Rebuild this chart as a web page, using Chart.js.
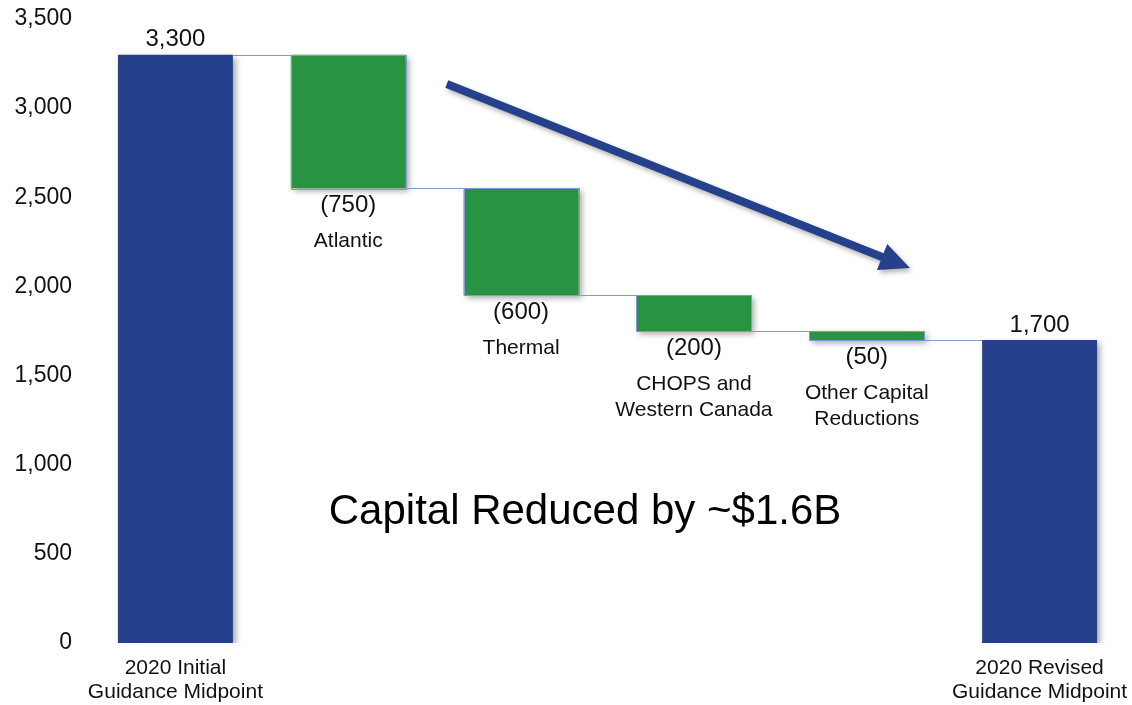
<!DOCTYPE html>
<html>
<head>
<meta charset="utf-8">
<title>Capital Reduced</title>
<script src="https://cdn.jsdelivr.net/npm/chart.js@4.4.1/dist/chart.umd.min.js"></script>
<style>
	html, body { margin: 0; padding: 0; background: #fff; }
	#wrap { width: 1132px; height: 705px; position: relative; }
</style>
</head>
<body>
<div id="wrap"><canvas id="waterfall"></canvas></div>
<script>
	'use strict';

	// Data
	const categoryLines = [
		['2020 Initial', 'Guidance Midpoint'],
		['Atlantic'],
		['Thermal'],
		['CHOPS and', 'Western Canada'],
		['Other Capital', 'Reductions'],
		['2020 Revised', 'Guidance Midpoint']
	];
	const startValue = 3300;
	const changes = [-750, -600, -200, -50];
	const endValue = 1700;
	const valueLabels = ['3,300', '(750)', '(600)', '(200)', '(50)', '1,700'];
	const yTickValues = [0, 500, 1000, 1500, 2000, 2500, 3000, 3500];

	// Annotation anchors, in data units (category index, value)
	const arrowFrom = [1.57, 3135];
	const arrowTo = [4.25, 2103];
	const noteText = 'Capital Reduced by ~$1.6B';
	const noteAt = [2.37, 735];

	const BLUE = '#26418c';
	const GREEN = '#289443';
	const LINE = '#8797d4';
	const FONT = '"Liberation Sans", Arial, Helvetica, sans-serif';

	// Build floating bars [low, high] and the levels between steps
	const ranges = [[0, startValue]];
	const levels = [startValue];
	let running = startValue;
	changes.forEach(function(c) {
		ranges.push([running + c, running]);
		running += c;
		levels.push(running);
	});
	ranges.push([0, endValue]);

	const isTotal = ranges.map(function(r, i) { return i === 0 || i === ranges.length - 1; });
	const colors = isTotal.map(function(t) { return t ? BLUE : GREEN; });

	const waterfallPlugin = {
		id: 'waterfallExtras',
		beforeDatasetsDraw: function(chart) {
			const ctx = chart.ctx;
			ctx.save();
			ctx.shadowColor = 'rgba(0,0,0,0.35)';
			ctx.shadowBlur = 6;
			ctx.shadowOffsetX = 3;
			ctx.shadowOffsetY = 3;
		},
		afterDatasetsDraw: function(chart) {
			const ctx = chart.ctx;
			ctx.restore();

			const meta = chart.getDatasetMeta(0);
			const xs = chart.scales.x;
			const ys = chart.scales.y;
			const bars = meta.data;

			// Thin outline on the change bars
			ctx.save();
			ctx.strokeStyle = LINE;
			ctx.lineWidth = 1;
			bars.forEach(function(bar, i) {
				if (isTotal[i]) return;
				const p = bar.getProps(['x', 'y', 'base', 'width'], true);
				ctx.strokeRect(Math.round(p.x - p.width / 2) + 0.5, Math.round(p.y) + 0.5,
					Math.round(p.width), Math.round(p.base - p.y));
			});

			// Connectors between steps
			ctx.beginPath();
			levels.forEach(function(level, i) {
				const a = bars[i].getProps(['x', 'width'], true);
				const b = bars[i + 1].getProps(['x', 'width'], true);
				const y = Math.round(ys.getPixelForValue(level)) + 0.5;
				ctx.moveTo(a.x + a.width / 2, y);
				ctx.lineTo(b.x - b.width / 2, y);
			});
			ctx.stroke();
			ctx.restore();

			// Value labels and in-plot category labels
			ctx.save();
			ctx.fillStyle = '#111';
			ctx.textAlign = 'center';
			ctx.textBaseline = 'middle';
			bars.forEach(function(bar, i) {
				const p = bar.getProps(['x', 'y', 'base'], true);
				ctx.font = '24px ' + FONT;
				if (isTotal[i]) {
					ctx.fillText(valueLabels[i], p.x, Math.min(p.y, p.base) - 15);
				} else {
					const bottom = Math.max(p.y, p.base);
					ctx.fillText(valueLabels[i], p.x, bottom + 17);
					ctx.font = '21px ' + FONT;
					categoryLines[i].forEach(function(line, k) {
						ctx.fillText(line, p.x, bottom + 53 + k * 26);
					});
				}
			});
			ctx.restore();

			// Trend arrow
			const x0 = xs.getPixelForValue(arrowFrom[0]);
			const y0 = ys.getPixelForValue(arrowFrom[1]);
			const x1 = xs.getPixelForValue(arrowTo[0]);
			const y1 = ys.getPixelForValue(arrowTo[1]);
			const ang = Math.atan2(y1 - y0, x1 - x0);
			const headLen = 30;
			const headHalf = 14;
			const bx = x1 - headLen * Math.cos(ang);
			const by = y1 - headLen * Math.sin(ang);
			ctx.save();
			ctx.shadowColor = 'rgba(0,0,0,0.3)';
			ctx.shadowBlur = 5;
			ctx.shadowOffsetX = 2;
			ctx.shadowOffsetY = 3;
			ctx.strokeStyle = BLUE;
			ctx.fillStyle = BLUE;
			ctx.lineWidth = 8;
			ctx.beginPath();
			ctx.moveTo(x0, y0);
			ctx.lineTo(bx + 2 * Math.cos(ang), by + 2 * Math.sin(ang));
			ctx.stroke();
			ctx.beginPath();
			ctx.moveTo(x1, y1);
			ctx.lineTo(bx + headHalf * Math.sin(ang), by - headHalf * Math.cos(ang));
			ctx.lineTo(bx - headHalf * Math.sin(ang), by + headHalf * Math.cos(ang));
			ctx.closePath();
			ctx.fill();
			ctx.restore();

			// Big annotation
			ctx.save();
			ctx.fillStyle = '#000';
			ctx.font = '42px ' + FONT;
			ctx.textAlign = 'center';
			ctx.textBaseline = 'middle';
			ctx.fillText(noteText, xs.getPixelForValue(noteAt[0]), ys.getPixelForValue(noteAt[1]));
			ctx.restore();
		}
	};

	new Chart(document.getElementById('waterfall'), {
		type: 'bar',
		data: {
			labels: categoryLines.map(function(l) { return l.join(' '); }),
			datasets: [{
				data: ranges,
				backgroundColor: colors,
				borderWidth: 0,
				categoryPercentage: 1,
				barPercentage: 0.665
			}]
		},
		options: {
			responsive: true,
			maintainAspectRatio: false,
			animation: false,
			layout: {
				padding: { top: 19, right: 6, bottom: 0, left: 12 }
			},
			plugins: {
				legend: { display: false },
				tooltip: { enabled: false }
			},
			scales: {
				x: {
					grid: { display: false, drawTicks: false },
					border: { display: false },
					afterFit: function(scale) {
						scale.height = 62;
						scale.paddingLeft = 0;
						scale.paddingRight = 0;
					},
					ticks: {
						autoSkip: false,
						maxRotation: 0,
						padding: 13,
						color: '#111',
						font: { family: FONT, size: 21, lineHeight: 1.14 },
						callback: function(value, index) {
							return isTotal[index] ? categoryLines[index] : '';
						}
					}
				},
				y: {
					min: 0,
					max: 3500,
					grid: { display: false, drawTicks: false },
					border: { display: false },
					afterFit: function(scale) {
						scale.width = 77;
						scale.paddingTop = 0;
						scale.paddingBottom = 0;
					},
					afterBuildTicks: function(scale) {
						scale.ticks = yTickValues.map(function(v) { return { value: v }; });
					},
					ticks: {
						padding: 17,
						color: '#111',
						font: { family: FONT, size: 23 },
						callback: function(value) {
							return value.toLocaleString('en-US');
						}
					}
				}
			}
		},
		plugins: [waterfallPlugin]
	});
</script>
</body>
</html>
